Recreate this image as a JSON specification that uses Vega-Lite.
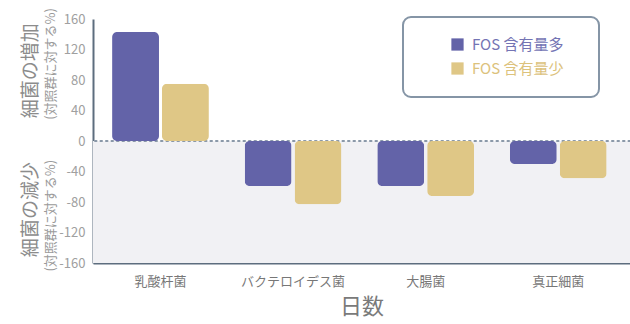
{
  "$schema": "https://vega.github.io/schema/vega-lite/v6.json",
  "width": 537,
  "height": 244,
  "autosize": {"type": "none"},
  "padding": {"left": 93, "top": 19, "right": 0, "bottom": 61},
  "background": "white",
  "config": {"view": {"stroke": null}, "font": "Noto Sans CJK JP", "axisY": {"labelOverlap": false}},
  "datasets": {
    "bars": [
      {"group": "乳酸杆菌", "series": "FOS 含有量多", "value": 143},
      {"group": "乳酸杆菌", "series": "FOS 含有量少", "value": 75},
      {"group": "バクテロイデス菌", "series": "FOS 含有量多", "value": -59},
      {"group": "バクテロイデス菌", "series": "FOS 含有量少", "value": -83},
      {"group": "大腸菌", "series": "FOS 含有量多", "value": -59},
      {"group": "大腸菌", "series": "FOS 含有量少", "value": -72},
      {"group": "真正細菌", "series": "FOS 含有量多", "value": -30},
      {"group": "真正細菌", "series": "FOS 含有量少", "value": -49}
    ],
    "ytitle": [{"t": "細菌の増加", "v": 92}, {"t": "細菌の減少", "v": -90}],
    "ysub": [{"t": "(対照群に対する%)", "v": 101}, {"t": "(対照群に対する%)", "v": -98}]
  },
  "layer": [
    {
      "data": {"values": [{}]},
      "mark": {"type": "rect", "fill": "#f1f1f4"},
      "encoding": {
        "y": {
          "datum": 0,
          "type": "quantitative",
          "scale": {"domain": [-160, 160], "nice": false},
          "axis": {
            "title": null,
            "values": [-160, -120, -80, -40, 0, 40, 80, 120, 160],
            "tickCount": 12,
            "labelExpr": "'' + datum.value",
            "labelOverlap": false,
            "labelFontSize": 13,
            "labelColor": "#a0a0a0",
            "labelPadding": 8,
            "ticks": false,
            "grid": false,
            "domainColor": "#5d6d7e",
            "domainWidth": 2
          }
        },
        "y2": {"datum": -160}
      }
    },
    {
      "data": {"values": [{}]},
      "mark": {"type": "rule", "stroke": "#8a98a8", "strokeDash": [1.5, 4], "strokeWidth": 2, "strokeCap": "round"},
      "encoding": {
        "y": {"datum": 0, "type": "quantitative"}
      }
    },
    {
      "data": {"name": "bars"},
      "mark": {"type": "bar", "cornerRadius": 5},
      "encoding": {
        "x": {
          "field": "group",
          "type": "nominal",
          "sort": ["乳酸杆菌", "バクテロイデス菌", "大腸菌", "真正細菌"],
          "scale": {"paddingInner": 0.27, "paddingOuter": 0.16, "align": 0.45},
          "axis": {
            "title": "日数",
            "titleFontSize": 22,
            "titleFontWeight": "normal",
            "titleColor": "#7a7a7a",
            "titlePadding": 8,
            "labelAngle": 0,
            "labelFontSize": 13,
            "labelColor": "#777777",
            "labelPadding": 12,
            "ticks": false,
            "domainColor": "#5d6d7e",
            "domainWidth": 2
          }
        },
        "xOffset": {
          "field": "series",
          "type": "nominal",
          "sort": ["FOS 含有量多", "FOS 含有量少"],
          "scale": {"paddingInner": 0.06}
        },
        "y": {"field": "value", "type": "quantitative"},
        "color": {
          "field": "series",
          "type": "nominal",
          "scale": {"domain": ["FOS 含有量多", "FOS 含有量少"], "range": ["#6363a8", "#dfc786"]},
          "legend": {
            "orient": "none",
            "legendX": 310,
            "legendY": -2,
            "title": "\u2003",
            "titleOrient": "right",
            "titleFontSize": 10,
            "titlePadding": 15,
            "padding": 20,
            "symbolOffset": 27,
            "symbolType": "square",
            "symbolSize": 150,
            "symbolStrokeWidth": 0,
            "labelFontSize": 15,
            "labelOffset": 7,
            "rowPadding": 8,
            "fillColor": "white",
            "strokeColor": "#8595a6",
            "cornerRadius": 8,
            "labelLimit": 300,
            "encode": {
              "legend": {
                "update": {"strokeWidth": {"value": 2}}
              },
              "labels": {
                "update": {
                  "fill": {"signal": "datum.label == 'FOS 含有量多' ? '#7474b4' : '#dcc27c'"}
                }
              }
            }
          }
        }
      }
    },
    {
      "data": {"name": "ytitle"},
      "mark": {"type": "text", "angle": 270, "fontSize": 19, "fill": "#8c8c8c", "dy": -62, "align": "center", "baseline": "middle"},
      "encoding": {
        "x": {"value": 0},
        "y": {"field": "v", "type": "quantitative"},
        "text": {"field": "t"}
      }
    },
    {
      "data": {"name": "ysub"},
      "mark": {"type": "text", "angle": 270, "fontSize": 13, "fill": "#9a9a9a", "dy": -42, "align": "center", "baseline": "middle"},
      "encoding": {
        "x": {"value": 0},
        "y": {"field": "v", "type": "quantitative"},
        "text": {"field": "t"}
      }
    }
  ]
}
